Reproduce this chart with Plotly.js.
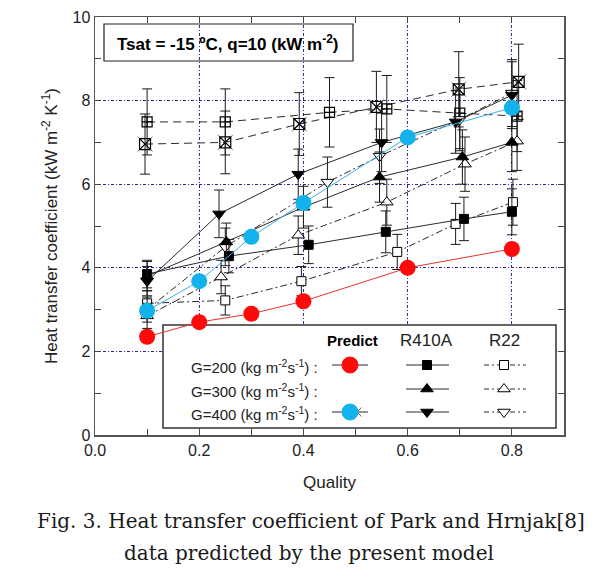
<!DOCTYPE html>
<html>
<head>
<meta charset="utf-8">
<script src="https://cdn.plot.ly/plotly-3.0.1.min.js"></script>
<style>html,body{margin:0;padding:0;background:#fff;}#chart{width:603px;height:577px;}</style>
</head>
<body>
<div id="chart"></div>
<script>
// ---- Data ----
const predX    = [0.1, 0.2, 0.3, 0.4, 0.6, 0.8];
const pred200  = [2.35, 2.70, 2.90, 3.20, 4.00, 4.45];
const pred400  = [2.97, 3.68, 4.74, 5.55, 7.12, 7.83];

const r410a200X = [0.1, 0.257, 0.41, 0.558, 0.708, 0.8];
const r410a200  = [3.85, 4.28, 4.55, 4.86, 5.17, 5.34];
const r410a200E = [0.33, 0.40, 0.45, 0.50, 0.52, 0.55];

const r22_200X = [0.1, 0.25, 0.396, 0.58, 0.692, 0.802];
const r22_200  = [3.15, 3.22, 3.68, 4.38, 5.05, 5.57];
const r22_200E = [0.30, 0.35, 0.35, 0.42, 0.49, 0.55];

const r410a300X = [0.1, 0.252, 0.4, 0.546, 0.705, 0.8];
const r410a300  = [3.80, 4.62, 5.45, 6.17, 6.65, 7.00];
const r410a300E = [0.35, 0.45, 0.50, 0.60, 0.65, 0.70];

const r22_300X = [0.1, 0.242, 0.39, 0.56, 0.71, 0.81];
const r22_300  = [2.85, 3.78, 4.78, 5.57, 6.48, 7.03];
const r22_300E = [0.30, 0.40, 0.46, 0.55, 0.65, 0.70];

const r410a400X = [0.1, 0.238, 0.39, 0.55, 0.692, 0.8];
const r410a400  = [3.68, 5.29, 6.24, 7.00, 7.49, 8.13];
const r410a400E = [0.35, 0.57, 0.60, 0.70, 0.75, 0.80];

const r22_400X = [0.1, 0.25, 0.446, 0.546, 0.7, 0.8];
const r22_400  = [3.00, 4.50, 6.05, 6.67, 7.55, 8.18];
const r22_400E = [0.30, 0.45, 0.60, 0.65, 0.75, 0.80];

const topAX = [0.1, 0.25, 0.45, 0.56, 0.7, 0.81];
const topA  = [7.49, 7.49, 7.72, 7.80, 7.70, 7.63];
const topAE = [0.79, 0.79, 0.83, 0.80, 0.85, 0.85];

const topBX = [0.096, 0.25, 0.392, 0.54, 0.698, 0.813];
const topB  = [6.96, 7.00, 7.44, 7.85, 8.27, 8.45];
const topBE = [0.72, 0.75, 0.75, 0.85, 0.90, 0.90];

const xTickVals = [0, 0.2, 0.4, 0.6, 0.8];
const xTickText = ['0.0', '0.2', '0.4', '0.6', '0.8'];
const yTickVals = [0, 2, 4, 6, 8, 10];
const yTickText = ['0', '2', '4', '6', '8', '10'];

const rowLabels = ['G=200 (kg m<sup>-2</sup>s<sup>-1</sup>) :', 'G=300 (kg m<sup>-2</sup>s<sup>-1</sup>) :', 'G=400 (kg m<sup>-2</sup>s<sup>-1</sup>) :'];
const headers = ['Predict', 'R410A', 'R22'];

// ---- Layout helpers (pixel -> axis units, for legend/title boxes only) ----
const X_RANGE = [0, 0.9], Y_RANGE = [0, 10];
const PL = 95, PR = 564, PT = 17, PB = 435;
const px2x = px => X_RANGE[0] + (px - PL) / (PR - PL) * (X_RANGE[1] - X_RANGE[0]);
const py2y = py => Y_RANGE[0] + (PB - py) / (PB - PT) * (Y_RANGE[1] - Y_RANGE[0]);

// ---- Styling ----
const FONT = 'Liberation Sans, Arial, sans-serif';
const dark = '#2b2b2b';
const errStyle = arr => ({type: 'data', array: arr, visible: true, color: '#1a1a1a', thickness: 1, width: 5});

function expTrace(x, y, e, symbol, size, dash, fill, lw) {
  const open = /-open$/.test(symbol);
  return {
    x: x, y: y, type: 'scatter', mode: 'lines+markers',
    line: {color: dark, width: 1, dash: dash},
    marker: {symbol: symbol, size: size, color: (fill || open) ? '#000' : '#fff', line: {color: '#000', width: lw || 1}},
    error_y: errStyle(e), showlegend: false, cliponaxis: false
  };
}

const DASHDOT = '7px,3px,2px,3px';
const traces = [
  {x: topBX, y: topB, type: 'scatter', mode: 'markers', hoverinfo: 'skip', showlegend: false, cliponaxis: false,
   marker: {symbol: 'x-thin-open', size: 15, color: '#777', line: {color: '#777', width: 1}}},
  expTrace(topBX, topB, topBE, 'square-x-open', 11, '8px,5px', false, 1.2),
  expTrace(topAX, topA, topAE, 'square-cross-open', 10, '8px,5px', false, 1.2),
  expTrace(r22_200X, r22_200, r22_200E, 'square', 9, DASHDOT, false),
  expTrace(r22_300X, r22_300, r22_300E, 'triangle-up', 11, DASHDOT, false),
  expTrace(r22_400X, r22_400, r22_400E, 'triangle-down', 11, DASHDOT, false),
  expTrace(r410a200X, r410a200, r410a200E, 'square', 9, 'solid', true),
  expTrace(r410a300X, r410a300, r410a300E, 'triangle-up', 11, 'solid', true),
  expTrace(r410a400X, r410a400, r410a400E, 'triangle-down', 11, 'solid', true),
  {x: predX, y: pred200, type: 'scatter', mode: 'lines+markers', line: {color: '#e83030', width: 1},
   marker: {symbol: 'circle', size: 16, color: '#ff0a0a'}, showlegend: false, cliponaxis: false},
  {x: predX, y: pred400, type: 'scatter', mode: 'lines+markers', line: {color: '#3fb0e0', width: 1},
   marker: {symbol: 'circle', size: 16, color: '#12b2ec'}, showlegend: false, cliponaxis: false}
];

// ---- Hand-drawn legend samples (positions given in pixels, converted to axis units) ----
const rowY = [365, 389, 412];
function sampleLine(x0, x1, y, dash) {
  return {x: [px2x(x0), px2x(x1)], y: [py2y(y), py2y(y)], type: 'scatter', mode: 'lines',
          line: {color: dark, width: 1, dash: dash}, showlegend: false, hoverinfo: 'skip'};
}
function sampleMarker(x, y, symbol, size, color, lineColor) {
  return {x: [px2x(x)], y: [py2y(y)], type: 'scatter', mode: 'markers',
          marker: {symbol: symbol, size: size, color: color, line: {color: lineColor, width: 1}},
          showlegend: false, hoverinfo: 'skip'};
}
const LDD = '5px,3px,2px,3px';
traces.push(
  sampleLine(332, 368, rowY[0], 'solid'), sampleMarker(350, rowY[0], 'circle', 16, '#ff0a0a', '#ff0a0a'),
  sampleLine(332, 368, rowY[2], 'solid'), sampleMarker(357, rowY[2], 'x-thin-open', 9, '#666', '#666'),
  sampleMarker(350, rowY[2], 'circle', 16, '#12b2ec', '#12b2ec'),
  sampleLine(406, 449, rowY[0], 'solid'), sampleMarker(427, rowY[0], 'square', 9, '#000', '#000'),
  sampleLine(406, 449, rowY[1], 'solid'), sampleMarker(427, rowY[1], 'triangle-up', 11, '#000', '#000'),
  sampleLine(406, 449, rowY[2], 'solid'), sampleMarker(427, rowY[2], 'triangle-down', 11, '#000', '#000'),
  sampleLine(484, 526, rowY[0], LDD), sampleMarker(504, rowY[0], 'square', 9, '#fff', '#000'),
  sampleLine(484, 526, rowY[1], LDD), sampleMarker(504, rowY[1], 'triangle-up', 11, '#fff', '#000'),
  sampleLine(484, 526, rowY[2], LDD), sampleMarker(504, rowY[2], 'triangle-down', 11, '#fff', '#000')
);

const annotations = [
  {xref: 'x', yref: 'y', x: px2x(228), y: py2y(42.5), xanchor: 'center', yanchor: 'middle',
   text: '<b>Tsat = -15 ºC, q=10 (kW m<sup>-2</sup>)</b>', showarrow: false,
   font: {family: FONT, size: 17, color: '#000'}},
  {xref: 'x', yref: 'y', x: px2x(352), y: py2y(340), xanchor: 'center', yanchor: 'middle',
   text: '<b>' + headers[0] + '</b>', showarrow: false, font: {family: FONT, size: 15, color: '#000'}},
  {xref: 'x', yref: 'y', x: px2x(426), y: py2y(340), xanchor: 'center', yanchor: 'middle',
   text: headers[1], showarrow: false, font: {family: FONT, size: 17, color: '#222'}},
  {xref: 'x', yref: 'y', x: px2x(504), y: py2y(340), xanchor: 'center', yanchor: 'middle',
   text: headers[2], showarrow: false, font: {family: FONT, size: 17, color: '#222'}},
  {xref: 'paper', yref: 'paper', x: (311 - PL) / (PR - PL), y: (PB - 521) / (PB - PT), xanchor: 'center', yanchor: 'middle',
   text: 'Fig. 3. Heat transfer coefficient of Park and Hrnjak[8]',
   showarrow: false, font: {family: 'DejaVu Serif, serif', size: 20, color: '#1a1a1a'}},
  {xref: 'paper', yref: 'paper', x: (309 - PL) / (PR - PL), y: (PB - 553) / (PB - PT), xanchor: 'center', yanchor: 'middle',
   text: 'data predicted by the present model',
   showarrow: false, font: {family: 'DejaVu Serif, serif', size: 20, color: '#1a1a1a'}}
];
rowLabels.forEach((t, i) => annotations.push({xref: 'x', yref: 'y', x: px2x(320), y: py2y(rowY[i] + 1),
  xanchor: 'right', yanchor: 'middle', text: t, showarrow: false, font: {family: FONT, size: 15, color: '#222'}}));

const gridDash = '3px,2px,1px,2px';
const layout = {
  width: 603, height: 577,
  margin: {l: PL, r: 603 - PR, t: PT, b: 577 - PB, pad: 0},
  paper_bgcolor: '#fff', plot_bgcolor: '#fff',
  font: {family: FONT, color: '#222'},
  xaxis: {
    range: X_RANGE, tickvals: xTickVals, ticktext: xTickText,
    ticks: 'inside', ticklen: 6, tickwidth: 1, tickcolor: '#444',
    minor: {dtick: 0.1, tick0: 0, ticks: 'inside', ticklen: 6, tickcolor: '#444', showgrid: false},
    showline: true, linecolor: '#555', linewidth: 1.5, mirror: 'ticks',
    showgrid: true, gridcolor: '#2a2aa8', gridwidth: 1, griddash: gridDash, zeroline: false,
    tickfont: {family: FONT, size: 16, color: '#222'},
    title: {text: 'Quality', font: {family: FONT, size: 17, color: '#222'}, standoff: 18}
  },
  yaxis: {
    range: Y_RANGE, tickvals: yTickVals, ticktext: yTickText,
    ticks: 'inside', ticklen: 6, tickwidth: 1, tickcolor: '#444',
    minor: {dtick: 1, tick0: 0, ticks: 'inside', ticklen: 6, tickcolor: '#444', showgrid: false},
    showline: true, linecolor: '#555', linewidth: 1.5, mirror: 'ticks',
    showgrid: true, gridcolor: '#2a2aa8', gridwidth: 1, griddash: gridDash, zeroline: false,
    tickfont: {family: FONT, size: 16, color: '#222'},
    title: {text: 'Heat transfer coefficient (kW m<sup>-2</sup> K<sup>-1</sup>)', font: {family: FONT, size: 17, color: '#222'}, standoff: 10}
  },
  shapes: [
    {type: 'rect', xref: 'x', yref: 'y', x0: px2x(104), x1: px2x(353), y0: py2y(24), y1: py2y(61), layer: 'above',
     line: {color: '#222', width: 1.2}, fillcolor: 'rgba(0,0,0,0)'},
    {type: 'rect', xref: 'x', yref: 'y', x0: px2x(163), x1: px2x(556), y0: py2y(325), y1: py2y(428), layer: 'between',
     line: {color: '#333', width: 1.5}, fillcolor: '#fff'}
  ],
  annotations: annotations,
  showlegend: false
};

Plotly.newPlot('chart', traces, layout, {displayModeBar: false, staticPlot: true});
</script>
</body>
</html>
